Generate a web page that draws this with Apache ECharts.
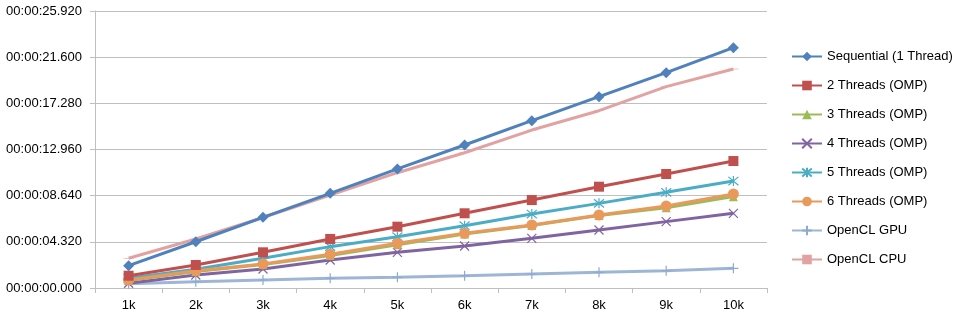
<!DOCTYPE html>
<html>
<head>
<meta charset="utf-8">
<script src="https://cdn.jsdelivr.net/npm/echarts@6/dist/echarts.min.js"></script>
<style>html,body{margin:0;padding:0;background:#fff;}#c{width:958px;height:323px;}</style>
</head>
<body>
<div id="c"></div>
<script>
var categories = ['1k','2k','3k','4k','5k','6k','7k','8k','9k','10k'];
var seqValues  = [2.09, 4.33, 6.61, 8.86, 11.14, 13.38, 15.66, 17.90, 20.15, 22.49];
var omp2Values = [1.15, 2.15, 3.34, 4.59, 5.74, 6.99, 8.23, 9.48, 10.67, 11.88];
var omp3Values = [0.70, 1.55, 2.20, 3.05, 4.05, 5.05, 5.85, 6.78, 7.50, 8.55];
var omp4Values = [0.44, 1.22, 1.78, 2.62, 3.34, 3.93, 4.65, 5.43, 6.21, 6.99];
var omp5Values = [0.91, 1.75, 2.78, 3.87, 4.80, 5.83, 6.92, 7.92, 8.95, 10.01];
var omp6Values = [0.75, 1.62, 2.25, 3.15, 4.18, 5.12, 5.90, 6.83, 7.67, 8.80];
var gpuValues  = [0.40, 0.59, 0.75, 0.91, 1.00, 1.15, 1.31, 1.47, 1.62, 1.84];
var cpuValues  = [2.78, 4.59, 6.60, 8.70, 10.79, 12.66, 14.78, 16.59, 18.84, 20.49];
var yTicks = [0, 4.32, 8.64, 12.96, 17.28, 21.6, 25.92];

function pad(n, w){ n = String(n); while(n.length < w) n = '0' + n; return n; }
function fmtTime(v){
  var ms = Math.round(v * 1000);
  var h = Math.floor(ms / 3600000); ms -= h * 3600000;
  var m = Math.floor(ms / 60000); ms -= m * 60000;
  var s = Math.floor(ms / 1000); ms -= s * 1000;
  return pad(h,2) + ':' + pad(m,2) + ':' + pad(s,2) + '.' + pad(ms,3);
}

var FONT = 'Liberation Sans, Arial, sans-serif';
var X_PATH = 'path://M0,0L10,10M10,0L0,10';
var AST_PATH = 'path://M0,0L10,10M10,0L0,10M5,-1L5,11';
var PLUS_PATH = 'path://M5,0L5,10M0,5L10,5';
var DASH_PATH = 'path://M0,0L10,0L10,2L0,2Z';

function mk(name, data, color, symbol, size, extra){
  var s = {
    name: name, type: 'line', data: data,
    symbol: symbol, symbolSize: size, showSymbol: true,
    lineStyle: { color: color, width: 3 },
    itemStyle: { color: color },
    emphasis: { disabled: true },
    animation: false
  };
  if (extra) for (var k in extra) s[k] = extra[k];
  return s;
}

var chart = echarts.init(document.getElementById('c'), null, { renderer: 'canvas' });
chart.setOption({
  backgroundColor: '#ffffff',
  animation: false,
  grid: { left: 95, right: 191, top: 11, bottom: 35 },
  legend: {
    orient: 'vertical', left: 791, top: 50, padding: 0,
    itemWidth: 30, itemHeight: 12, itemGap: 16,
    textStyle: { fontFamily: FONT, fontSize: 13, color: '#000' },
    data: ['Sequential (1 Thread)','2 Threads (OMP)','3 Threads (OMP)','4 Threads (OMP)','5 Threads (OMP)','6 Threads (OMP)','OpenCL GPU','OpenCL CPU']
  },
  xAxis: {
    type: 'category', data: categories, boundaryGap: true,
    axisLine: { lineStyle: { color: '#bfbfbf', width: 1 } },
    axisTick: { show: true, length: 5, lineStyle: { color: '#bfbfbf' } },
    axisLabel: { fontFamily: FONT, fontSize: 13, color: '#000', margin: 11 },
    splitLine: { show: false }
  },
  yAxis: {
    type: 'value', min: 0, max: 25.92, interval: 4.32,
    axisLine: { show: true, lineStyle: { color: '#bfbfbf', width: 1 } },
    axisTick: { show: true, length: 5, lineStyle: { color: '#bfbfbf' } },
    axisLabel: { fontFamily: FONT, fontSize: 13, color: '#000', margin: 13, formatter: fmtTime },
    splitLine: { show: true, lineStyle: { color: '#bfbfbf', width: 1 } }
  },
  series: [
    mk('OpenCL GPU', gpuValues, '#9db6d6', PLUS_PATH, 10, { itemStyle: { color: 'rgba(0,0,0,0)', borderColor: '#8faad0', borderWidth: 1.2 }, z: 2 }),
    mk('OpenCL CPU', cpuValues, '#e1a3a2', DASH_PATH, [10, 3], { symbolKeepAspect: true, itemStyle: { color: '#e1a3a2' }, z: 2 }),
    mk('4 Threads (OMP)', omp4Values, '#8064a2', X_PATH, 9, { itemStyle: { color: 'rgba(0,0,0,0)', borderColor: '#8064a2', borderWidth: 1.2 }, z: 3 }),
    mk('3 Threads (OMP)', omp3Values, '#9bbb59', 'triangle', 9, { z: 3 }),
    mk('5 Threads (OMP)', omp5Values, '#4bacc6', AST_PATH, 10, { itemStyle: { color: 'rgba(0,0,0,0)', borderColor: '#4bacc6', borderWidth: 1.2 }, z: 3 }),
    mk('6 Threads (OMP)', omp6Values, '#e9995a', 'circle', 11, { z: 4 }),
    mk('2 Threads (OMP)', omp2Values, '#c0504d', 'rect', 10, { z: 4 }),
    mk('Sequential (1 Thread)', seqValues, '#4f81bd', 'diamond', 11, { z: 5 })
  ]
});
</script>
</body>
</html>
